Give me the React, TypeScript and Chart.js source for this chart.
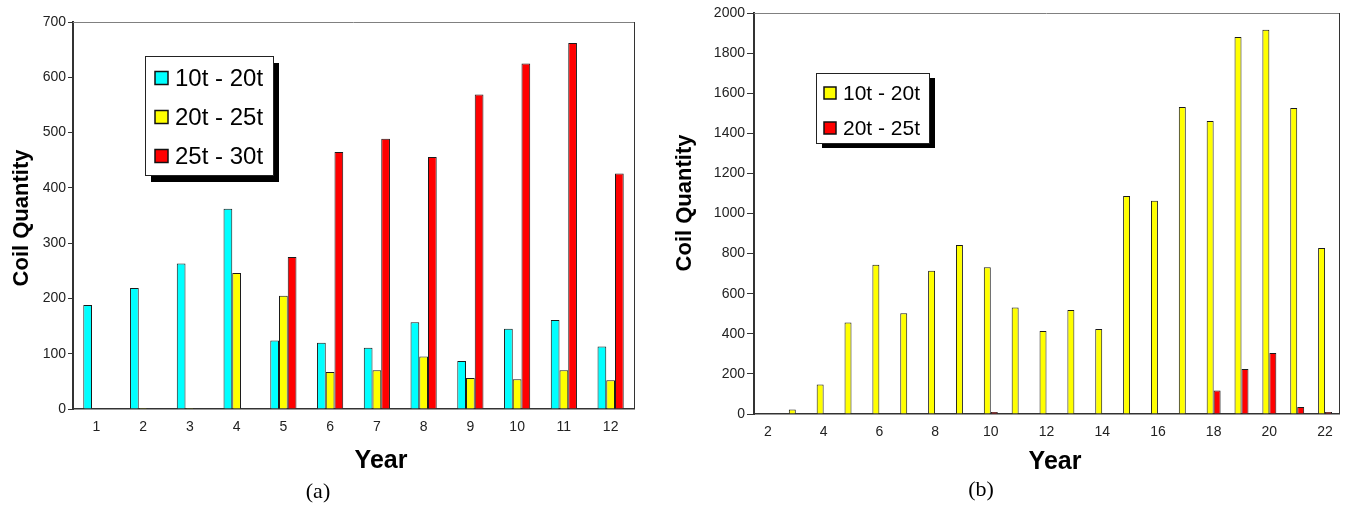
import React, { useEffect, useRef } from 'react';
import { Chart, registerables } from 'chart.js';

Chart.register(...registerables);

const SANS = "'Liberation Sans', Arial, Helvetica, sans-serif";
const SERIF = "'Liberation Serif', 'Times New Roman', serif";

// ---------- Data: chart (a) ----------
const yearsA = ['1', '2', '3', '4', '5', '6', '7', '8', '9', '10', '11', '12'];
const a10to20 = [188, 219, 263, 362, 124, 120, 111, 157, 87, 145, 161, 113];
const a20to25 = [0, 2, 2, 246, 205, 67, 70, 95, 56, 54, 70, 52];
const a25to30 = [0, 0, 0, 0, 275, 465, 489, 456, 569, 625, 662, 426];
const labelsA = ['10t - 20t', '20t - 25t', '25t - 30t'];

// ---------- Data: chart (b) ----------
const yearsB = ['2', '3', '4', '5', '6', '7', '8', '9', '10', '11', '12', '13', '14', '15', '16', '17', '18', '19', '20', '21', '22'];
const b10to20 = [0, 22, 147, 456, 745, 502, 715, 843, 732, 531, 414, 519, 424, 1087, 1064, 1531, 1461, 1880, 1917, 1526, 828];
const b20to25 = [0, 0, 0, 0, 0, 0, 0, 0, 10, 0, 0, 0, 0, 0, 0, 0, 117, 224, 304, 35, 10];
const labelsB = ['10t - 20t', '20t - 25t'];

const CYAN = '#00FFFF';
const YELLOW = '#FFFF00';
const RED = '#FF0000';

const framePlugin = {
  id: 'frame',
  afterDatasetsDraw(chart: any) {
    const { ctx, chartArea } = chart;
    ctx.save();
    ctx.lineWidth = 1;
    ctx.strokeStyle = '#808080';
    ctx.beginPath();
    ctx.moveTo(chartArea.left, chartArea.top + 0.5);
    ctx.lineTo(chartArea.right, chartArea.top + 0.5);
    ctx.stroke();
    ctx.strokeStyle = '#333333';
    ctx.beginPath();
    ctx.moveTo(chartArea.right + 0.5, chartArea.top);
    ctx.lineTo(chartArea.right + 0.5, chartArea.bottom);
    ctx.stroke();
    ctx.restore();
  },
};

const legendBoxPlugin = {
  id: 'legendBox',
  afterDraw(chart: any, _args: any, opts: any) {
    if (!opts || !opts.w) return;
    const { ctx } = chart;
    const { x, y, w, h, dx, dy, fontSize, rowY, rowGap, markerX, markerSize, textX } = opts;
    ctx.save();
    ctx.fillStyle = '#000';
    ctx.fillRect(x + dx, y + dy, w, h);
    ctx.fillStyle = '#fff';
    ctx.fillRect(x, y, w, h);
    ctx.strokeStyle = '#222';
    ctx.lineWidth = 1;
    ctx.strokeRect(x + 0.5, y + 0.5, w, h);
    ctx.font = `${fontSize}px ${SANS}`;
    ctx.textBaseline = 'middle';
    ctx.textAlign = 'left';
    chart.data.datasets.forEach((ds: any, i: number) => {
      const cy = rowY + i * rowGap;
      ctx.fillStyle = ds.backgroundColor;
      ctx.fillRect(markerX, cy - markerSize / 2, markerSize, markerSize);
      ctx.strokeStyle = '#111';
      ctx.lineWidth = 1.5;
      ctx.strokeRect(markerX, cy - markerSize / 2, markerSize, markerSize);
      ctx.fillStyle = '#000';
      ctx.fillText(ds.label, textX, cy + 1);
    });
    ctx.restore();
  },
};

const textsPlugin = {
  id: 'texts',
  afterDraw(chart: any, _args: any, opts: any) {
    const items = (opts && opts.items) || [];
    const { ctx } = chart;
    items.forEach((t: any) => {
      ctx.save();
      ctx.translate(t.x, t.y);
      if (t.rotate) ctx.rotate(t.rotate);
      ctx.font = t.font;
      ctx.fillStyle = '#000';
      ctx.textAlign = 'center';
      ctx.textBaseline = 'middle';
      ctx.fillText(t.text, 0, 0);
      ctx.restore();
    });
  },
};

function makeConfig(p: any) {
  const xTicks: any = {
    color: '#222',
    font: { family: SANS, size: 14 },
    padding: 10,
    autoSkip: false,
    maxRotation: 0,
  };
  if (p.labelEvery > 1) {
    xTicks.callback = function (this: any, _v: any, index: number) {
      return index % p.labelEvery === 0 ? this.getLabelForValue(index) : '';
    };
  }
  return {
    type: 'bar',
    data: {
      labels: p.labels,
      datasets: p.series.map((s: any) => ({
        label: s.label,
        data: s.data,
        backgroundColor: s.color,
        borderColor: '#1a1a1a',
        borderWidth: 1,
        categoryPercentage: p.catPct,
        barPercentage: 1,
      })),
    },
    plugins: [framePlugin, legendBoxPlugin, textsPlugin],
    options: {
      responsive: false,
      maintainAspectRatio: false,
      animation: false,
      devicePixelRatio: 1,
      layout: { padding: { top: p.padTop, right: p.padRight, left: 0, bottom: 0 } },
      plugins: {
        legend: { display: false },
        tooltip: { enabled: false },
        title: { display: false },
        legendBox: p.legend,
        texts: { items: p.texts },
      },
      scales: {
        x: {
          type: 'category',
          offset: true,
          grid: { display: false, drawTicks: false },
          border: { display: true, color: '#333', width: 1.5 },
          ticks: xTicks,
          afterFit: (scale: any) => { scale.height = p.xHeight; },
        },
        y: {
          min: 0,
          max: p.yMax,
          grid: { display: true, drawOnChartArea: false, drawTicks: true, tickLength: p.tickLen, color: '#333', lineWidth: 1 },
          border: { display: true, color: '#333', width: 2 },
          ticks: {
            stepSize: p.yStep,
            color: '#222',
            font: { family: SANS, size: 14 },
            padding: 2,
            callback: (v: any) => String(v),
          },
          afterFit: (scale: any) => { scale.width = p.yWidth; },
        },
      },
    },
  };
}

function Panel({ left, width, params }: any) {
  const ref = useRef<HTMLCanvasElement | null>(null);
  useEffect(() => {
    if (!ref.current) return;
    const chart = new Chart(ref.current, makeConfig(params) as any);
    return () => chart.destroy();
  }, []);
  return (
    <canvas
      ref={ref}
      width={width}
      height={506}
      style={{ position: 'absolute', left, top: 0, width, height: 506 }}
    />
  );
}

const paramsA = {
  labels: yearsA,
  series: [
    { label: labelsA[0], data: a10to20, color: CYAN },
    { label: labelsA[1], data: a20to25, color: YELLOW },
    { label: labelsA[2], data: a25to30, color: RED },
  ],
  catPct: 0.56,
  padTop: 22,
  padRight: 26,
  xHeight: 97,
  yWidth: 73,
  yMax: 700,
  yStep: 100,
  tickLen: 5,
  labelEvery: 1,
  legend: { x: 145, y: 56, w: 128, h: 119, dx: 6, dy: 7, fontSize: 24, rowY: 78, rowGap: 39, markerX: 155, markerSize: 13, textX: 175 },
  texts: [
    { text: 'Coil Quantity', x: 22, y: 218, rotate: -Math.PI / 2, font: `bold 22px ${SANS}` },
    { text: 'Year', x: 381, y: 461, font: `bold 25px ${SANS}` },
    { text: '(a)', x: 318, y: 492, font: `22px ${SERIF}` },
  ],
};

const paramsB = {
  labels: yearsB,
  series: [
    { label: labelsB[0], data: b10to20, color: YELLOW },
    { label: labelsB[1], data: b20to25, color: RED },
  ],
  catPct: 0.5,
  padTop: 13,
  padRight: 7,
  xHeight: 92,
  yWidth: 94,
  yMax: 2000,
  yStep: 200,
  tickLen: 7,
  labelEvery: 2,
  legend: { x: 156, y: 73, w: 113, h: 70, dx: 6, dy: 5, fontSize: 21, rowY: 93, rowGap: 35, markerX: 164, markerSize: 12, textX: 183 },
  texts: [
    { text: 'Coil Quantity', x: 25, y: 203, rotate: -Math.PI / 2, font: `bold 22px ${SANS}` },
    { text: 'Year', x: 395, y: 462, font: `bold 25px ${SANS}` },
    { text: '(b)', x: 321, y: 490, font: `22px ${SERIF}` },
  ],
};

export default function App() {
  return (
    <div style={{ position: 'absolute', left: 0, top: 0, width: 1346, height: 506, background: '#fff' }}>
      <Panel left={0} width={660} params={paramsA} />
      <Panel left={660} width={686} params={paramsB} />
    </div>
  );
}
